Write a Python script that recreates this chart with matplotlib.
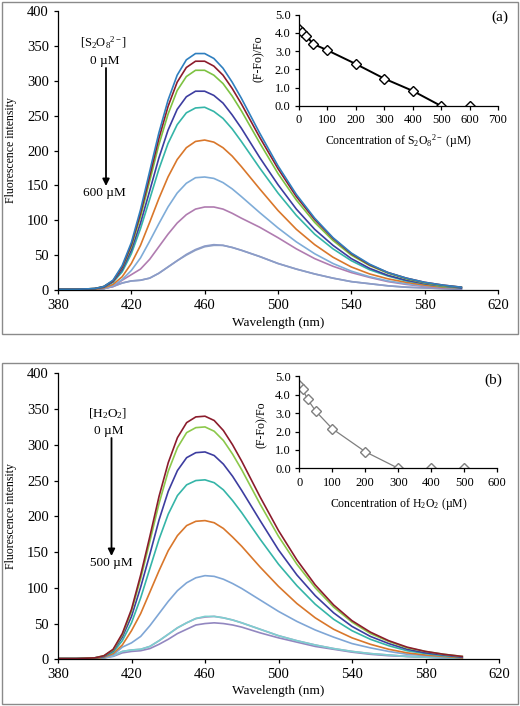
import matplotlib
matplotlib.use("Agg")
import matplotlib.pyplot as plt
from matplotlib.patches import Rectangle

plt.rcParams['font.family'] = ['Liberation Serif', 'DejaVu Serif']
plt.rcParams['mathtext.fontset'] = 'custom'
plt.rcParams['mathtext.rm'] = 'Liberation Serif'
plt.rcParams['mathtext.it'] = 'Liberation Serif:italic'
plt.rcParams['mathtext.bf'] = 'Liberation Serif:bold'

# ---------------- data ----------------
wavelength = [380, 390, 400, 405, 410, 415, 420, 425, 430, 435, 440, 445, 450, 455, 460,
              465, 470, 475, 480, 490, 500, 510, 520, 530, 540, 550, 560, 570, 580, 590, 600]

# panel (a): persulfate series, 0 -> 600 uM
a_0 = [1, 1, 2, 5, 14, 35, 68, 115, 170, 225, 272, 308, 330, 339, 339, 332, 318, 298, 275, 225, 178, 137, 103, 75, 53, 37, 25, 17, 11, 7, 4]
a_10 = [1, 1, 2, 5, 13, 33, 65, 110, 163, 217, 263, 298, 319, 328, 328, 321, 308, 289, 267, 219, 174, 134, 101, 74, 52, 36, 25, 17, 11, 7, 4]
a_25 = [1, 1, 2, 5, 13, 32, 62, 105, 156, 208, 252, 286, 306, 315, 315, 308, 296, 278, 257, 211, 167, 129, 97, 71, 50, 35, 24, 16, 10, 6, 4]
a_50 = [1, 1, 2, 4, 12, 29, 57, 96, 142, 189, 229, 259, 277, 285, 285, 279, 268, 251, 232, 190, 151, 116, 87, 64, 45, 31, 21, 14, 9, 6, 3]
a_100 = [1, 1, 2, 4, 11, 26, 52, 88, 130, 173, 210, 237, 254, 261, 262, 256, 246, 231, 213, 175, 139, 107, 80, 59, 42, 29, 20, 13, 9, 5, 3]
a_200 = [1, 1, 1, 3, 8, 19, 38, 64, 97, 131, 162, 187, 204, 213, 215, 212, 204, 192, 177, 145, 114, 87, 65, 47, 33, 23, 16, 11, 7, 4, 3]
a_300 = [1, 1, 1, 2, 6, 15, 28, 46, 70, 95, 119, 139, 153, 161, 162, 160, 154, 145, 134, 111, 89, 69, 52, 38, 27, 19, 13, 9, 6, 4, 2]
a_400 = [1, 1, 1, 2, 5, 14, 22, 30, 44, 62, 80, 96, 108, 116, 119, 119, 116, 110, 103, 90, 75, 59, 45, 34, 25, 18, 12, 8, 5, 3, 2]
a_500 = [1, 1, 1, 2, 5, 10, 13, 14, 17, 24, 33, 42, 51, 58, 63, 65, 64, 61, 57, 48, 38, 30, 23, 17, 12, 9, 6, 4, 3, 2, 1]
a_600 = [1, 1, 1, 2, 5, 10, 13, 14, 17, 24, 33, 42, 50, 57, 62, 64, 64, 61, 57, 48, 38, 30, 23, 17, 12, 9, 6, 4, 3, 2, 1]
a_series = [a_0, a_10, a_25, a_50, a_100, a_200, a_300, a_400, a_500, a_600]
a_colors = ['#2F7FBF', '#8B1C2C', '#7DC242', '#3D3DA0', '#35B5A8',
            '#D9772B', '#7FACD8', '#B07CB0', '#8C9CC8', '#90A2C4']

# panel (b): H2O2 series, 0 -> 500 uM
b_0 = [1, 1, 2, 5, 14, 36, 70, 118, 172, 228, 275, 310, 331, 339, 340, 334, 320, 300, 277, 227, 180, 139, 104, 76, 54, 38, 26, 17, 11, 7, 4]
b_10 = [1, 1, 2, 5, 13, 34, 67, 113, 165, 218, 263, 296, 317, 324, 325, 319, 306, 287, 265, 217, 172, 133, 100, 73, 52, 36, 25, 16, 11, 7, 4]
b_25 = [1, 1, 2, 4, 12, 31, 60, 101, 147, 195, 235, 264, 282, 289, 290, 285, 273, 256, 236, 194, 153, 118, 89, 65, 46, 32, 22, 14, 9, 6, 3]
b_50 = [1, 1, 2, 4, 10, 26, 51, 86, 127, 168, 203, 229, 244, 250, 251, 247, 237, 222, 205, 168, 133, 103, 77, 56, 40, 28, 19, 12, 8, 5, 3]
b_100 = [1, 1, 1, 3, 8, 20, 40, 64, 94, 124, 152, 173, 187, 193, 194, 191, 183, 171, 158, 129, 102, 78, 58, 42, 30, 21, 14, 9, 6, 4, 2]
b_200 = [1, 1, 1, 2, 6, 17, 23, 32, 47, 64, 81, 96, 107, 114, 117, 116, 112, 106, 99, 83, 67, 53, 41, 31, 22, 16, 11, 7, 5, 3, 2]
b_300 = [1, 1, 1, 2, 5, 11, 13, 14, 18, 26, 35, 44, 51, 57, 60, 60, 58, 55, 51, 42, 33, 26, 20, 15, 11, 8, 6, 4, 3, 2, 1]
b_400 = [1, 1, 1, 2, 5, 11, 13, 14, 18, 26, 35, 44, 51, 57, 59, 60, 58, 55, 51, 42, 33, 26, 20, 15, 11, 8, 6, 4, 3, 2, 1]
b_500 = [1, 1, 1, 2, 4, 9, 11, 12, 15, 21, 28, 36, 42, 48, 50, 51, 50, 48, 45, 37, 30, 24, 18, 14, 10, 7, 5, 4, 3, 2, 1]
b_series = [b_0, b_10, b_25, b_50, b_100, b_200, b_300, b_400, b_500]
b_colors = ['#8B1C2C', '#8CC84B', '#3D3DA0', '#35B5A8', '#D9772B',
            '#7FA6D6', '#7CD0D0', '#B58CBF', '#9287C0']

# insets
a_conc = [0, 10, 25, 50, 100, 200, 300, 400, 500, 600]
a_ratio = [4.2, 4.05, 3.85, 3.4, 3.05, 2.3, 1.5, 0.83, 0.0, 0.0]
b_conc = [0, 10, 25, 50, 100, 200, 300, 400, 500]
b_ratio = [4.55, 4.3, 3.75, 3.1, 2.15, 0.9, 0.0, 0.0, 0.0]

# ---------------- figure ----------------
W, H = 520, 706
fig = plt.figure(figsize=(W / 100, H / 100), dpi=100)


def rect(l, t, r, b):
    return [l / W, 1 - b / H, (r - l) / W, (b - t) / H]


def fxy(x, y):
    return (x / W, 1 - y / H)


# panel borders
for (l, t, r, b) in [(1.5, 1.5, 517.5, 334), (1.5, 363, 517.5, 704)]:
    fig.patches.append(Rectangle((l / W, 1 - b / H), (r - l) / W, (b - t) / H,
                                 transform=fig.transFigure, fill=False,
                                 edgecolor='#8a8a8a', linewidth=1.0))


def style_main(ax):
    ax.set_xlim(380, 620)
    ax.set_ylim(0, 400)
    ax.set_xticks([380, 420, 460, 500, 540, 580, 620])
    ax.set_yticks(range(0, 401, 50))
    for s in ['top', 'right']:
        ax.spines[s].set_visible(False)
    for s in ['left', 'bottom']:
        ax.spines[s].set_linewidth(0.9)
    ax.tick_params(direction='out', length=3, width=0.9, labelsize=10.5, pad=3.5)
    ax.set_xlabel('Wavelength (nm)', fontsize=9.5)
    ax.set_ylabel('Fluorescence intensity', fontsize=8.5)


def style_inset(ax, xmax):
    ax.set_xlim(0, xmax)
    ax.set_ylim(0, 5)
    ax.set_xticks(range(0, xmax + 1, 100))
    ax.set_yticks([0, 1, 2, 3, 4, 5])
    ax.set_yticklabels(['%.1f' % v for v in [0, 1, 2, 3, 4, 5]])
    for s in ['top', 'right']:
        ax.spines[s].set_visible(False)
    for s in ['left', 'bottom']:
        ax.spines[s].set_linewidth(0.9)
    ax.tick_params(direction='out', length=3, width=0.9, labelsize=9, pad=3)
    ax.patch.set_alpha(0)


# ---- panel (a)
axa = fig.add_axes(rect(58, 11, 498, 290))
for ys, c in zip(reversed(a_series), reversed(a_colors)):
    axa.plot(wavelength, ys, color=c, lw=1.2)
style_main(axa)
axa.xaxis.set_label_coords(0.5, -0.095)
axa.yaxis.set_label_coords(-0.094, 0.5)

fig.text(*fxy(104, 43), '[S$_2$O$_8$$^{2-}$]', ha='center', va='center', fontsize=9)
fig.text(*fxy(105, 61), '0 µM', ha='center', va='center', fontsize=9.5)
fig.text(*fxy(104, 193), '600 µM', ha='center', va='center', fontsize=9.5)
axa.annotate('', xy=fxy(106, 186), xytext=fxy(106, 68),
             xycoords='figure fraction', textcoords='figure fraction',
             arrowprops=dict(arrowstyle='-|>', color='black', lw=1.3,
                             mutation_scale=10, shrinkA=0, shrinkB=0))

ina = fig.add_axes(rect(299, 14.7, 498, 106))
ina.plot(a_conc[:9], a_ratio[:9], color='black', lw=1.4)
ina.plot(a_conc, a_ratio, linestyle='none', marker='D', markersize=5.5,
         markerfacecolor='white', markeredgecolor='black', markeredgewidth=1.0)
style_inset(ina, 700)
ina.set_xlabel('Concentration of S$_2$O$_8$$^{2-}$ (µM)', fontsize=8.5)
ina.set_ylabel('(F-Fo)/Fo', fontsize=8.5)
ina.xaxis.set_label_coords(0.5, -0.29)
ina.yaxis.set_label_coords(-0.17, 0.52)
fig.text(*fxy(500, 17), '(a)', ha='center', va='center', fontsize=11)

# ---- panel (b)
axb = fig.add_axes(rect(58, 373.3, 499, 659.3))
for ys, c in zip(reversed(b_series), reversed(b_colors)):
    axb.plot(wavelength, ys, color=c, lw=1.2)
style_main(axb)
axb.xaxis.set_label_coords(0.5, -0.09)
axb.yaxis.set_label_coords(-0.094, 0.5)

fig.text(*fxy(108, 414), '[H$_2$O$_2$]', ha='center', va='center', fontsize=9.5)
fig.text(*fxy(109, 431), '0 µM', ha='center', va='center', fontsize=9.5)
fig.text(*fxy(111, 563), '500 µM', ha='center', va='center', fontsize=9.5)
axb.annotate('', xy=fxy(111.5, 556), xytext=fxy(111.5, 438),
             xycoords='figure fraction', textcoords='figure fraction',
             arrowprops=dict(arrowstyle='-|>', color='black', lw=1.3,
                             mutation_scale=10, shrinkA=0, shrinkB=0))

inb = fig.add_axes(rect(299.3, 376.3, 497.3, 468.3))
inb.plot(b_conc[:7], b_ratio[:7], color='#7f7f7f', lw=0.9)
inb.plot(b_conc, b_ratio, linestyle='none', marker='D', markersize=5.5,
         markerfacecolor='white', markeredgecolor='#7f7f7f', markeredgewidth=1.0)
style_inset(inb, 600)
inb.set_xlabel('Concentration of H$_2$O$_2$ (µM)', fontsize=8.5)
inb.set_ylabel('(F-Fo)/Fo', fontsize=8.5)
inb.xaxis.set_label_coords(0.5, -0.30)
inb.yaxis.set_label_coords(-0.16, 0.47)
fig.text(*fxy(493, 380), '(b)', ha='center', va='center', fontsize=11)

fig.savefig('out.png', dpi=100)
